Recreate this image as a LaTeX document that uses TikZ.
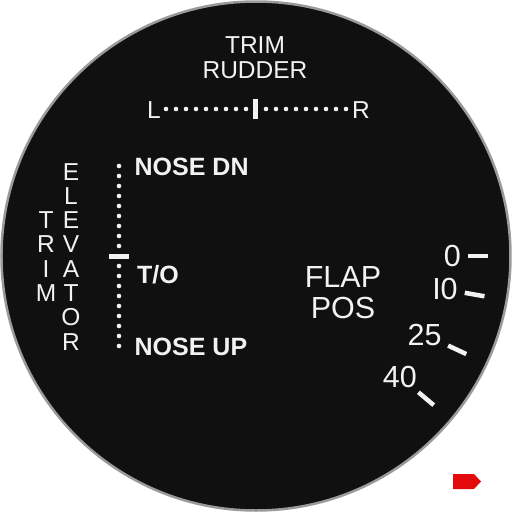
\documentclass[tikz,border=0pt]{standalone}
\usepackage{fontspec}
\setmainfont{Liberation Sans}
\usetikzlibrary{positioning}
\definecolor{panelblack}{HTML}{101010}
\definecolor{rimgray}{HTML}{9A9A9A}
\definecolor{panelwhite}{HTML}{F2F2F2}
\definecolor{flagred}{HTML}{E20A0A}

\begin{document}
\begin{tikzpicture}[
        x=1pt, y=1pt,
        every node/.style={inner sep=0pt, text=panelwhite},
        lbl/.style={font=\fontsize{24.5}{25}\selectfont, anchor=base},
        boldlbl/.style={font=\fontsize{25}{25}\selectfont\bfseries, anchor=base west},
        flaplbl/.style={font=\fontsize{30.5}{31}\selectfont},
        bar/.style={fill=panelwhite, draw=none},
        tick/.style={draw=panelwhite, line width=4.5pt}
    ]
    \useasboundingbox (-256,-256) rectangle (256,256);

    % 1. Dial face
    \node[circle, draw=rimgray, fill=panelblack, line width=2.5pt, minimum size=509] (dial) at (0,0) {};

    % 2. Rudder trim
    \node[lbl] (trim) at (-1,203) {TRIM};
    \node[lbl] (rudder) at (-1,178) {RUDDER};
    \node[lbl] (left) at (-102,138) {L};
    \node[lbl] (right) at (105,138) {R};
    \foreach \x in {-90,-80,...,-10,10,20,...,90}
        \fill[panelwhite] (\x,147) circle (2.3);
    \node[bar, minimum width=5, minimum height=20] (rudderbar) at (0,147) {};

    % 3. Elevator trim
    \foreach \ch [count=\i from 0] in {E,L,E,V,A,T,O,R}
        \node[lbl] (elev\i) at (-185,76-24.3*\i) {\ch};
    \foreach \ch [count=\i from 2] in {T,R,I,M}
        \node[lbl] (trimv\i) at (-210,76-24.3*\i) {\ch};
    \foreach \y in {-90,-80,...,-10,10,20,...,90}
        \fill[panelwhite] (-137,\y) circle (2.3);
    \node[bar, minimum width=20, minimum height=5] (elevbar) at (-137,0) {};
    \node[boldlbl] (nosedn) at (-121.5,81) {NOSE DN};
    \node[boldlbl] (takeoff) at (-119,-27) {T/O};
    \node[boldlbl] (noseup) at (-121.5,-99) {NOSE UP};

    % 4. Flap position
    \node[flaplbl, anchor=base] (flap) at (87,-31) {FLAP};
    \node[flaplbl, anchor=base] (pos) at (87,-62) {POS};
    \foreach \a/\t in {0/0,10/I0,25/25,40/40} {
        \draw[tick] (-\a:212) -- (-\a:232);
        \node[flaplbl, anchor=-\a] (flap\a) at (-\a:205) {\t};
    }

    % 5. Red flag
    \fill[flagred] (197,-218) -- (218,-218) -- (225,-225.5) -- (218,-233) -- (197,-233) -- cycle;

    \end{tikzpicture}
\end{document}
